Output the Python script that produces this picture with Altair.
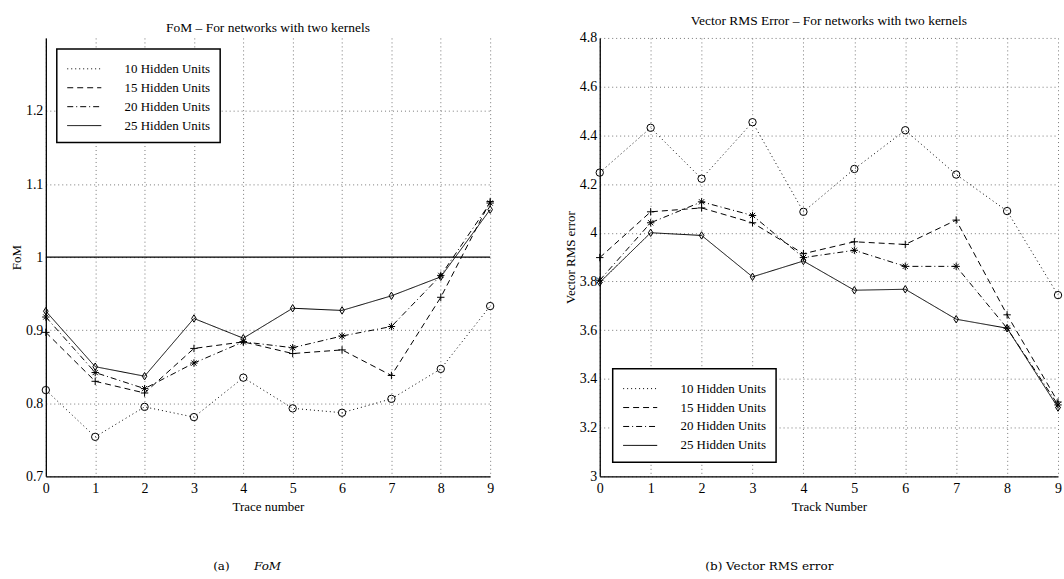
import altair as alt
import pandas as pd

traces = list(range(10))
series_names = ["10 Hidden Units", "15 Hidden Units", "20 Hidden Units", "25 Hidden Units"]
marker_names = ["o", "+", "*", "d"]

# FoM values (left panel)
fom_10 = [0.818, 0.754, 0.795, 0.781, 0.835, 0.793, 0.787, 0.806, 0.847, 0.933]
fom_15 = [0.897, 0.830, 0.814, 0.875, 0.884, 0.868, 0.873, 0.838, 0.945, 1.076]
fom_20 = [0.918, 0.842, 0.820, 0.855, 0.884, 0.876, 0.892, 0.905, 0.975, 1.074]
fom_25 = [0.926, 0.850, 0.837, 0.916, 0.889, 0.930, 0.927, 0.947, 0.973, 1.065]

# Vector RMS error values (right panel)
rms_10 = [4.247, 4.431, 4.222, 4.454, 4.086, 4.262, 4.421, 4.239, 4.089, 3.744]
rms_15 = [3.898, 4.086, 4.102, 4.041, 3.914, 3.963, 3.952, 4.052, 3.663, 3.305]
rms_20 = [3.805, 4.041, 4.127, 4.071, 3.898, 3.928, 3.862, 3.862, 3.608, 3.293]
rms_25 = [3.796, 4.000, 3.989, 3.819, 3.884, 3.764, 3.768, 3.645, 3.608, 3.282]

fom_ticks = [0.7, 0.8, 0.9, 1.0, 1.1, 1.2]
rms_ticks = [3.0, 3.2, 3.4, 3.6, 3.8, 4.0, 4.2, 4.4, 4.6, 4.8]
ref_level = [1.0]

dash_patterns = [[1, 3], [6, 4], [6, 3, 1, 3], [1, 0]]
shape_paths = [
    "circle",
    "M-1,0L1,0M0,-1L0,1",
    "M-1,0L1,0M0,-1L0,1M-0.7,-0.7L0.7,0.7M-0.7,0.7L0.7,-0.7",
    "M0,-1L0.62,0L0,1L-0.62,0Z",
]

SERIF = "Liberation Serif"


def long_df(cols):
    rows = []
    for name, mk, vals in zip(series_names, marker_names, cols):
        for t, v in zip(traces, vals):
            rows.append({"trace": t, "value": v, "series": name, "marker": mk})
    return pd.DataFrame(rows)


def panel(df, ydomain, yticks, xtitle, ytitle, lx, ly):
    base = alt.Chart(df)
    x = alt.X("trace:Q", scale=alt.Scale(domain=[0, 9], nice=False),
              axis=alt.Axis(values=traces, format="d", title=xtitle, labelFlush=False))
    y = alt.Y("value:Q", scale=alt.Scale(domain=ydomain, nice=False, zero=False),
              axis=alt.Axis(values=yticks, format="~g", title=ytitle, labelFlush=False))
    lines = base.mark_line(color="black", strokeWidth=1).encode(
        x=x, y=y,
        strokeDash=alt.StrokeDash(
            "series:N",
            scale=alt.Scale(domain=series_names, range=dash_patterns),
            legend=alt.Legend(
                title=None, orient="none", legendX=lx, legendY=ly,
                symbolType="M-1,0L2.6,0", symbolSize=361, symbolStrokeWidth=1,
                symbolStrokeColor="black", symbolFillColor="transparent", labelOffset=38,
                labelFont=SERIF, labelFontSize=13, labelColor="black",
                fillColor="white", strokeColor="black", padding=10,
                rowPadding=2, labelLimit=200,
            ),
        ),
    )
    points = base.mark_point(color="black", filled=False, strokeWidth=1, size=55, opacity=1).encode(
        x="trace:Q", y="value:Q",
        shape=alt.Shape("marker:N", scale=alt.Scale(domain=marker_names, range=shape_paths), legend=None),
    )
    return lines, points


fom_df = long_df([fom_10, fom_15, fom_20, fom_25])
rms_df = long_df([rms_10, rms_15, rms_20, rms_25])

l_lines, l_points = panel(fom_df, [0.7, 1.3], fom_ticks, "Trace number", "FoM", 11, 11)
ref = alt.Chart(pd.DataFrame({"level": ref_level})).mark_rule(color="black", strokeWidth=1.3).encode(y="level:Q")
cap_a1 = alt.Chart(pd.DataFrame({"t": ["(a)"]})).mark_text(
    font="DejaVu Serif", fontSize=12, align="left", baseline="middle", color="black"
).encode(x=alt.value(168), y=alt.value(530), text="t:N")
cap_a2 = alt.Chart(pd.DataFrame({"t": ["FoM"]})).mark_text(
    font="DejaVu Serif", fontSize=12, fontStyle="italic", align="left", baseline="middle", color="black"
).encode(x=alt.value(209), y=alt.value(530), text="t:N")

left = alt.layer(l_lines, ref, l_points, cap_a1, cap_a2).properties(
    width=446, height=440,
    title=alt.Title("FoM \u2013 For networks with two kernels", font=SERIF, fontSize=13.5,
                    fontWeight="normal", color="black", offset=3),
)

r_lines, r_points = panel(rms_df, [3.0, 4.8], rms_ticks, "Track Number", "Vector RMS error", 13, 332)
cap_b = alt.Chart(pd.DataFrame({"t": ["(b) Vector RMS error"]})).mark_text(
    font="DejaVu Serif", fontSize=12, align="left", baseline="middle", color="black"
).encode(x=alt.value(106), y=alt.value(530), text="t:N")

right = alt.layer(r_lines, r_points, cap_b).properties(
    width=460, height=440,
    title=alt.Title("Vector RMS Error \u2013  For networks with two kernels", font=SERIF, fontSize=13.5,
                    fontWeight="normal", color="black", offset=3),
)

chart = alt.hconcat(left, right, spacing=68).resolve_scale(
    x="independent", y="independent", strokeDash="independent", shape="independent"
).resolve_legend(strokeDash="independent", shape="independent").properties(
    padding={"left": 10, "top": 13, "right": 0, "bottom": 0}
).configure_view(stroke=None).configure_axis(
    domainColor="black", domainWidth=1.3, ticks=False,
    labelFont=SERIF, labelFontSize=14, labelColor="black",
    titleFont=SERIF, titleFontSize=13, titleFontWeight="normal", titleColor="black",
    grid=True, gridColor="#777777", gridDash=[1, 3], gridOpacity=1, gridWidth=1,
).configure_axisX(titlePadding=5, labelPadding=5).configure_axisY(titlePadding=2, labelPadding=3).configure_legend(
    strokeWidth=1.5
)

chart.save("out.html", embed_options={"renderer": "svg", "actions": False})
